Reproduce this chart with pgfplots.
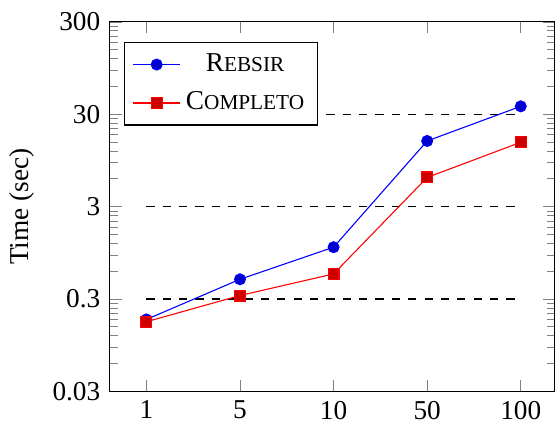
\documentclass[border=0pt]{standalone}
\usepackage{fontspec}
\setmainfont{Liberation Serif}
\usepackage{pgfplots}
\pgfplotsset{compat=1.18}
\newcommand{\fsc}[2]{#1{\fontsize{7.8}{8}\selectfont #2}}
\begin{document}
\begin{tikzpicture}
\begin{axis}[
  scale only axis,
  width=163pt, height=135.5pt,
  ymode=log,
  ymin=0.03, ymax=300,
  xmin=-0.39, xmax=4.36,
  xtick={0,1,2,3,4},
  xticklabels={1,5,10,50,100},
  ytick={0.03,0.3,3,30,300},
  yticklabels={0.03,0.3,3,30,300},
  minor ytick={0.06,0.09,0.12,0.15,0.18,0.21,0.24,0.27,
               0.6,0.9,1.2,1.5,1.8,2.1,2.4,2.7,
               6,9,12,15,18,21,24,27,
               60,90,120,150,180,210,240,270},
  ylabel={Time (sec)},
  /pgf/number format/assume math mode=true,
  tick label style={font=\normalsize},
  legend style={at={(0.032,0.945)}, anchor=north west, font=\normalsize, fill=white, row sep=2pt},
  legend cell align=center,
]
\addplot[black, dashed, forget plot] coordinates {(0,0.3) (4,0.3)};
\addplot[black, dashed, forget plot] coordinates {(0,3) (4,3)};
\addplot[black, dashed, forget plot] coordinates {(0,30) (4,30)};
\addplot coordinates {(0,0.18) (1,0.49) (2,1.09) (3,15.4) (4,36.5)};
\addlegendentry{\fsc{R}{EBSIR}}
\addplot coordinates {(0,0.17) (1,0.327) (2,0.56) (3,6.2) (4,14.9)};
\addlegendentry{\fsc{C}{OMPLETO}}
\end{axis}
\path (current axis.north) ++(0,8pt);
\end{tikzpicture}
\end{document}
